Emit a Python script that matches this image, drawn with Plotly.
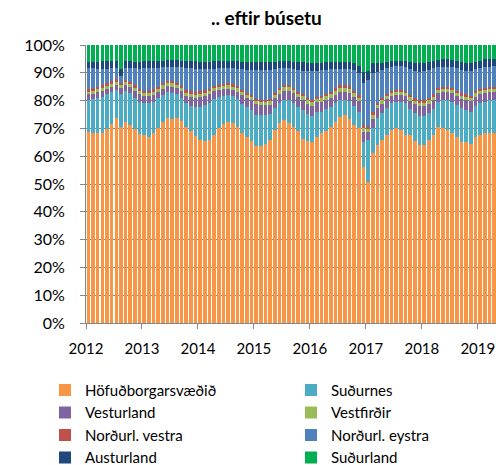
import plotly.graph_objects as go

# ---- data (monthly shares, Jan 2012 - Apr 2019) ----
years = ["2012", "2013", "2014", "2015", "2016", "2017", "2018", "2019"]

hofudborg = [
    68.5, 68.5, 68.5, 68.6, 70.0, 71.8, 73.6, 70.4, 72.4, 71.2, 70.0, 68.2,
    67.5, 67.0, 68.2, 70.0, 72.4, 73.6, 73.0, 73.6, 72.4, 70.6, 69.4, 67.6,
    66.0, 65.5, 65.8, 67.6, 70.0, 71.2, 72.0, 71.6, 70.5, 68.5, 67.0, 65.8,
    63.6, 63.9, 64.5, 65.8, 69.0, 71.2, 72.4, 71.2, 70.0, 68.8, 66.4, 65.8,
    65.2, 67.0, 68.2, 68.8, 70.0, 71.8, 73.6, 74.2, 73.0, 71.2, 70.0, 56.2,
    50.8, 61.0, 64.0, 65.8, 67.8, 69.4, 70.0, 69.4, 67.8, 67.6, 65.5, 64.0,
    64.0, 65.8, 67.6, 70.4, 70.0, 69.4, 68.2, 67.0, 65.2, 65.0, 64.3, 67.0,
    67.6, 68.2, 68.2, 68.4,
]
sudurnes = [
    11.7, 12.0, 12.5, 12.9, 12.5, 11.4, 10.2, 12.1, 11.1, 11.3, 11.0, 11.3,
    11.5, 12.0, 11.4, 10.8, 9.6, 9.0, 9.6, 8.4, 8.4, 8.4, 9.0, 10.2,
    11.8, 12.9, 13.2, 12.6, 10.8, 10.0, 9.4, 9.6, 10.0, 10.5, 10.8, 11.2,
    11.4, 10.9, 10.3, 9.2, 8.0, 7.4, 7.2, 8.4, 8.8, 8.7, 10.4, 9.7,
    9.4, 8.8, 7.8, 7.8, 7.2, 6.6, 5.8, 5.4, 6.4, 6.6, 6.0, 9.0,
    15.0, 9.0, 9.6, 9.7, 9.7, 9.6, 9.6, 10.2, 11.2, 9.4, 10.0, 10.5,
    10.5, 9.7, 9.4, 9.2, 10.2, 10.8, 11.4, 11.4, 12.0, 11.6, 11.7, 11.0,
    11.4, 11.4, 12.0, 11.8,
]
vesturland = [
    2.0, 2.0, 2.2, 2.2, 2.0, 1.8, 1.8, 2.0, 2.0, 2.3, 2.6, 3.0,
    2.6, 2.6, 2.5, 2.3, 2.2, 2.2, 2.2, 2.2, 2.4, 2.8, 3.2, 3.5,
    3.6, 3.4, 3.2, 3.0, 2.6, 2.4, 2.4, 2.4, 2.6, 3.0, 3.3, 3.6,
    3.6, 3.6, 3.5, 3.4, 3.3, 3.2, 3.2, 3.2, 3.3, 3.5, 3.7, 3.8,
    3.6, 3.6, 3.5, 3.4, 3.2, 3.0, 3.0, 3.0, 3.0, 3.3, 3.8, 3.5,
    3.0, 3.5, 3.6, 3.4, 3.0, 2.6, 2.4, 2.4, 2.6, 3.0, 3.3, 3.6,
    3.6, 3.4, 3.2, 3.0, 2.8, 2.8, 3.0, 3.2, 3.4, 3.6, 3.8, 3.4,
    3.2, 3.0, 2.8, 2.8,
]
vestfirdir = [
    0.9, 1.0, 1.0, 1.1, 1.1, 1.2, 1.2, 1.1, 1.1, 1.0, 1.0, 0.9,
    1.0, 0.9, 1.0, 1.1, 1.2, 1.2, 1.3, 1.2, 1.1, 1.0, 1.0, 0.9,
    1.0, 1.0, 1.0, 1.1, 1.2, 1.3, 1.3, 1.3, 1.2, 1.1, 1.0, 1.0,
    1.2, 1.2, 1.2, 1.3, 1.4, 1.5, 1.6, 1.5, 1.4, 1.3, 1.2, 1.2,
    1.2, 1.2, 1.3, 1.4, 1.5, 1.6, 1.6, 1.6, 1.5, 1.4, 1.3, 1.5,
    1.0, 1.5, 1.2, 1.2, 1.2, 1.2, 1.2, 1.2, 1.2, 1.2, 1.2, 1.2,
    1.2, 1.2, 1.3, 1.4, 1.4, 1.4, 1.3, 1.2, 1.2, 1.2, 1.2, 1.2,
    1.2, 1.2, 1.3, 1.3,
]
nordurl_vestra = [
    0.9, 0.9, 0.8, 0.9, 0.9, 0.8, 0.8, 0.9, 0.9, 0.9, 1.0, 1.0,
    0.9, 0.9, 0.9, 0.8, 0.8, 0.7, 0.7, 0.8, 0.8, 0.9, 1.0, 1.0,
    0.9, 0.9, 0.9, 0.8, 0.8, 0.7, 0.7, 0.7, 0.8, 0.9, 0.9, 1.0,
    0.8, 0.8, 0.8, 0.8, 0.7, 0.7, 0.6, 0.6, 0.7, 0.8, 0.8, 0.8,
    0.8, 0.8, 0.8, 0.8, 0.8, 0.7, 0.7, 0.7, 0.8, 0.8, 0.8, 1.2,
    0.8, 1.0, 0.8, 0.8, 0.7, 0.6, 0.6, 0.6, 0.7, 0.8, 0.8, 0.8,
    0.8, 0.8, 0.7, 0.6, 0.6, 0.6, 0.6, 0.7, 0.8, 0.8, 0.8, 0.8,
    0.8, 0.8, 0.7, 0.7,
]
nordurl_eystra = [
    7.5, 7.2, 6.5, 6.0, 5.2, 4.7, 4.1, 2.6, 4.2, 4.9, 6.1, 7.2,
    8.3, 8.3, 7.8, 6.8, 5.7, 5.1, 5.1, 5.7, 6.7, 8.1, 8.3, 8.6,
    7.9, 7.5, 7.1, 6.1, 5.9, 5.7, 5.5, 5.7, 6.2, 7.3, 8.2, 8.7,
    10.4, 10.6, 10.7, 10.5, 8.5, 6.9, 5.8, 5.9, 6.7, 7.9, 8.5, 9.7,
    10.6, 9.4, 9.2, 8.6, 8.1, 7.0, 6.0, 5.8, 6.1, 7.5, 8.1, 14.8,
    16.9, 14.0, 11.2, 10.1, 9.4, 8.8, 8.6, 8.6, 8.5, 9.2, 9.8, 10.3,
    10.5, 10.1, 9.4, 7.4, 7.2, 7.2, 7.5, 8.1, 8.4, 8.4, 8.8, 7.8,
    7.4, 7.4, 7.2, 7.4,
]
austurland = [
    2.4, 2.4, 2.5, 2.6, 2.7, 2.7, 2.6, 2.5, 2.5, 2.4, 2.4, 2.4,
    2.4, 2.4, 2.5, 2.5, 2.4, 2.3, 2.3, 2.3, 2.4, 2.5, 2.6, 2.6,
    2.8, 2.8, 2.7, 2.6, 2.5, 2.4, 2.4, 2.5, 2.6, 2.8, 2.9, 3.0,
    3.0, 3.0, 2.9, 2.8, 2.6, 2.5, 2.5, 2.5, 2.6, 2.8, 3.0, 3.1,
    3.0, 2.9, 2.8, 2.7, 2.6, 2.5, 2.4, 2.4, 2.5, 2.6, 2.5, 4.2,
    3.0, 3.5, 3.0, 2.6, 2.2, 2.1, 2.0, 2.0, 2.2, 2.6, 2.9, 3.0,
    3.0, 2.8, 2.6, 2.6, 2.6, 2.6, 2.6, 2.6, 2.8, 2.8, 3.0, 2.8,
    2.8, 2.8, 2.8, 2.6,
]
sudurland = [
    6.0, 6.0, 6.0, 5.9, 5.8, 5.7, 5.7, 8.5, 5.8, 5.9, 6.0, 6.1,
    5.8, 5.8, 5.7, 5.7, 5.6, 5.5, 5.5, 5.5, 5.6, 5.7, 5.8, 5.9,
    6.0, 6.0, 6.0, 5.9, 5.8, 5.7, 5.7, 5.8, 5.9, 6.0, 6.1, 6.2,
    6.0, 6.1, 6.1, 6.0, 5.9, 5.8, 5.8, 5.8, 5.9, 6.0, 6.2, 6.4,
    6.3, 6.3, 6.3, 6.2, 6.1, 6.0, 6.0, 6.1, 6.2, 6.4, 7.5, 9.6,
    9.5, 6.5, 6.6, 6.4, 6.0, 5.7, 5.6, 5.6, 5.8, 6.2, 6.5, 6.6,
    6.4, 6.2, 5.8, 5.4, 5.2, 5.2, 5.4, 5.8, 6.2, 6.6, 6.4, 6.0,
    5.6, 5.2, 5.0, 5.0,
]

series_names = ["Höfuðborgarsvæðið", "Suðurnes", "Vesturland", "Vestfirðir",
                "Norðurl. vestra", "Norðurl. eystra", "Austurland", "Suðurland"]
series_values = [hofudborg, sudurnes, vesturland, vestfirdir,
                 nordurl_vestra, nordurl_eystra, austurland, sudurland]
colors = ["#F79646", "#4BACC6", "#8064A2", "#9BBB59",
          "#C0504D", "#4F81BD", "#1F497D", "#00B050"]

n = len(hofudborg)
xpos = [i + 0.5 for i in range(n)]
tickpos = [12 * k for k in range(len(years))]

fig = go.Figure()
for k, (name, vals, col) in enumerate(zip(series_names, series_values, colors)):
    fig.add_trace(go.Bar(x=xpos, y=vals, name=name,
                         legend="legend" if k % 2 == 0 else "legend2",
                         marker=dict(color=col, line=dict(width=0))))

FONT = "Lato, 'Open Sans', sans-serif"
leg_common = dict(orientation="v", yanchor="top", xanchor="left", traceorder="normal",
                  font=dict(size=15, color="black"), tracegroupgap=0,
                  bgcolor="rgba(0,0,0,0)", borderwidth=0, itemclick=False)
fig.update_layout(
    barmode="stack", barnorm="percent", bargap=0.22,
    width=496, height=465,
    margin=dict(l=86, r=0, t=45, b=142, autoexpand=False),
    paper_bgcolor="white", plot_bgcolor="white",
    font=dict(family=FONT, size=15, color="black"),
    title=dict(text="<b>.. eftir búsetu</b>", x=0.44, xref="paper", xanchor="center",
               y=1 - 18 / 465, yanchor="middle", font=dict(size=19, color="black")),
    legend=dict(x=-0.1, y=-0.183, **leg_common),
    legend2=dict(x=0.5, y=-0.183, **leg_common),
    showlegend=True,
)
fig.update_xaxes(range=[0, 87.9], tickmode="array", tickvals=tickpos, ticktext=years,
                 ticks="outside", ticklen=5, tickcolor="#868686",
                 showline=True, linecolor="#868686", linewidth=1,
                 showgrid=False, zeroline=False, tickfont=dict(size=15),
                 ticklabelstandoff=7)
fig.update_yaxes(range=[0, 100], dtick=10, ticksuffix="%",
                 showgrid=True, gridcolor="#868686", gridwidth=1,
                 ticks="outside", ticklen=5, tickcolor="#868686",
                 showline=True, linecolor="#868686", linewidth=1,
                 zeroline=False, tickfont=dict(size=16), ticklabelstandoff=12)

fig.write_html("out.html", config={"displayModeBar": False},
               post_script="document.body.style.margin='0px';"
                           "document.body.style.overflow='hidden';")
